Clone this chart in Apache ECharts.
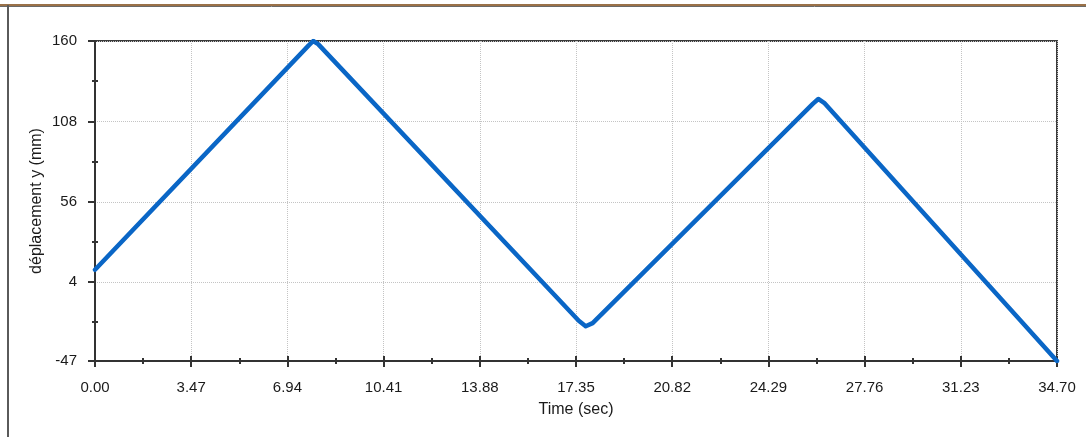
<!DOCTYPE html>
<html>
<head>
<meta charset="utf-8">
<title>déplacement y</title>
<script src="https://cdn.jsdelivr.net/npm/echarts@6/dist/echarts.min.js"></script>
<style>
  html, body { margin: 0; padding: 0; background: #ffffff; }
  #chart { width: 1086px; height: 437px; }
</style>
</head>
<body>
<div id="chart"></div>
<script>
// Displacement record: time (s) and vertical displacement (mm)
const timeSec = [0, 7.70, 7.87, 8.05, 17.45, 17.70, 17.95, 25.90, 26.09, 26.30, 34.70];
const dispMm  = [12, 157, 160, 158, -21, -24.5, -22.5, 119.5, 122.5, 120, -47];

// Axis tick labels
const yTicks = [-47, 4, 56, 108, 160];
const xMin = 0, xMax = 34.70, xStep = 3.47;

const xAxisName = 'Time (sec)';
const yAxisName = 'déplacement y (mm)';

const points = timeSec.map((t, i) => [t, dispMm[i]]);
const yMinor = yTicks.slice(1).map((v, i) => (v + yTicks[i]) / 2);

const FONT = 'Liberation Sans, Arial, sans-serif';
const INK = '#1a1a1a';
const AXIS = '#333333';

const chart = echarts.init(document.getElementById('chart'), null, { renderer: 'canvas' });

const baseX = {
  type: 'value', min: xMin, max: xMax, interval: xStep,
  position: 'bottom'
};
const baseY = {
  type: 'value', min: yTicks[0], max: yTicks[yTicks.length - 1],
  position: 'left'
};

chart.setOption({
  animation: false,
  backgroundColor: '#ffffff',
  grid: {
    left: 95, right: 29, top: 41, bottom: 76,
    show: true, borderColor: '#3a3a3a', borderWidth: 2, backgroundColor: '#ffffff'
  },
  graphic: [
    { type: 'line', shape: { x1: 0, y1: 5, x2: 1086, y2: 5 }, style: { stroke: '#9a7148', lineWidth: 2 } },
    { type: 'line', shape: { x1: 0, y1: 6.5, x2: 1086, y2: 6.5 }, style: { stroke: '#6a6a6a', lineWidth: 1 } },
    { type: 'line', shape: { x1: 8, y1: 5, x2: 8, y2: 437 }, style: { stroke: '#5a5a5a', lineWidth: 2 } }
  ],
  xAxis: [
    Object.assign({}, baseX, {
      name: xAxisName, nameLocation: 'middle', nameGap: 41, nameMoveOverlap: false,
      nameTextStyle: { fontFamily: FONT, fontSize: 16, color: INK },
      axisLine: { show: true, onZero: false, lineStyle: { color: AXIS, width: 2 } },
      axisTick: { show: true, inside: false, length: 6, lineStyle: { color: AXIS, width: 2 } },
      minorTick: { show: true, splitNumber: 2, length: 3, lineStyle: { color: AXIS, width: 2 } },
      axisLabel: {
        fontFamily: FONT, fontSize: 15, color: INK, margin: 19,
        formatter: v => v.toFixed(2),
        showMinLabel: true, showMaxLabel: true
      },
      splitLine: { show: true, lineStyle: { color: '#c4c4c4', width: 1, type: 'dotted' } }
    }),
    Object.assign({}, baseX, {
      axisLine: { show: false, onZero: false },
      axisTick: { show: true, inside: true, length: 5, lineStyle: { color: AXIS, width: 2 } },
      minorTick: { show: true, splitNumber: 2, length: 3, lineStyle: { color: AXIS, width: 2 } },
      axisLabel: { show: false },
      splitLine: { show: false }
    })
  ],
  yAxis: [
    Object.assign({}, baseY, {
      name: yAxisName, nameLocation: 'middle', nameGap: 50, nameMoveOverlap: false,
      nameTextStyle: { fontFamily: FONT, fontSize: 16, color: INK },
      axisLine: { show: true, onZero: false, lineStyle: { color: AXIS, width: 2 } },
      axisTick: { show: true, inside: false, length: 7, customValues: yTicks, lineStyle: { color: AXIS, width: 2 } },
      axisLabel: {
        fontFamily: FONT, fontSize: 15, color: INK, margin: 18,
        customValues: yTicks, formatter: v => String(v)
      },
      splitLine: { show: true, lineStyle: { color: '#c4c4c4', width: 1, type: 'dotted' } }
    }),
    Object.assign({}, baseY, {
      axisLine: { show: false, onZero: false },
      axisTick: { show: true, inside: false, length: 3, customValues: yMinor, lineStyle: { color: AXIS, width: 2 } },
      axisLabel: { show: false },
      splitLine: { show: false }
    }),
    Object.assign({}, baseY, {
      axisLine: { show: false, onZero: false },
      axisTick: { show: true, inside: true, length: 3, customValues: yMinor, lineStyle: { color: AXIS, width: 2 } },
      axisLabel: { show: false },
      splitLine: { show: false }
    })
  ],
  series: [{
    type: 'line',
    xAxisIndex: 0, yAxisIndex: 0,
    data: points,
    symbol: 'none',
    lineStyle: { color: '#0a66c6', width: 4.5, join: 'round', cap: 'round' },
    z: 5
  }]
});
</script>
</body>
</html>
